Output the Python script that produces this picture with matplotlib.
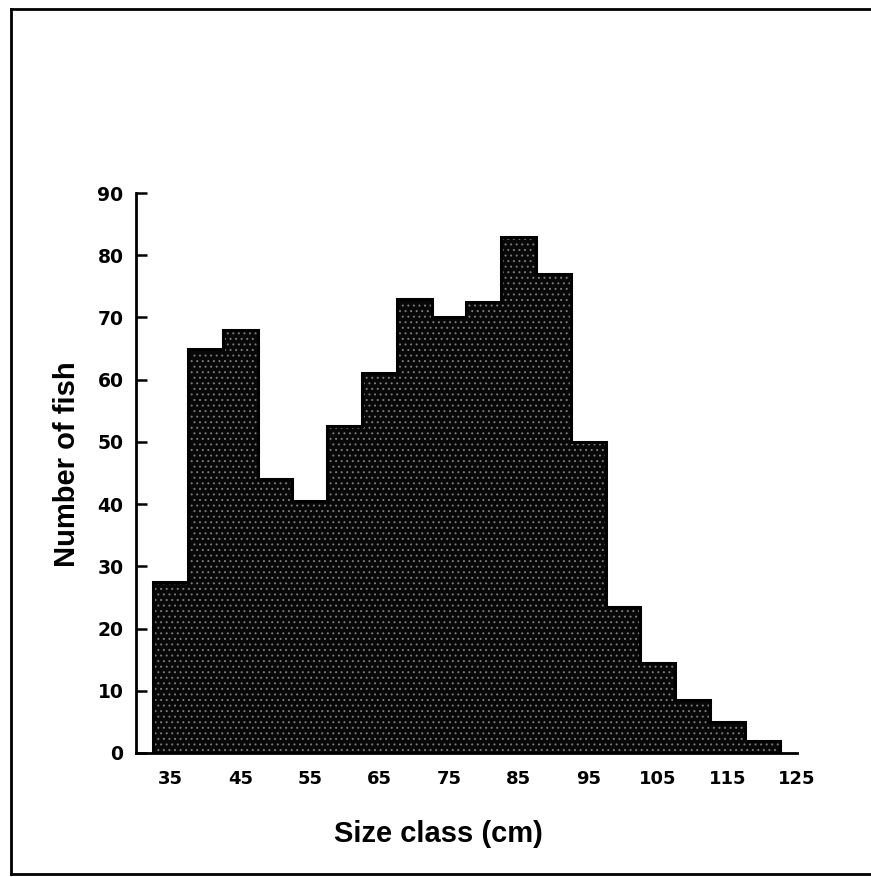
import numpy as np
import matplotlib
matplotlib.use("Agg")
import matplotlib.pyplot as plt
from matplotlib.lines import Line2D

# size classes (bin centres, cm) and number of fish in each
size_class = [35, 40, 45, 50, 55, 60, 65, 70, 75, 80, 85, 90, 95, 100, 105, 110, 115, 120]
n_fish = [27.5, 65, 68, 44, 40.5, 52.5, 61, 73, 70, 72.5, 83, 77, 50, 23.5, 14.5, 8.5, 5, 2]
bin_width = 5

xtick_vals = [35, 45, 55, 65, 75, 85, 95, 105, 115, 125]
ytick_vals = [0, 10, 20, 30, 40, 50, 60, 70, 80, 90]

plt.rcParams['hatch.linewidth'] = 0.7

fig = plt.figure(figsize=(8.71, 8.77), dpi=100)
ax = fig.add_axes([0.156, 0.1414, 0.759, 0.6385])

# dark fill with a light speckle, no dividers between classes
ax.bar(size_class, n_fish, width=bin_width, color='#080808', linewidth=0, zorder=2)
ax.bar(size_class, n_fish, width=bin_width, facecolor='none', edgecolor='#7a7a7a',
       hatch='...', linewidth=0, zorder=3)
# heavy outline round the whole histogram
edges = [c - bin_width / 2 for c in size_class] + [size_class[-1] + bin_width / 2]
ax.stairs(n_fish, edges, baseline=0, color='black', linewidth=2.2, zorder=4)

ax.set_xlim(30, 125)
ax.set_ylim(0, 90)

for s in ['top', 'right']:
    ax.spines[s].set_visible(False)
ax.spines['left'].set_linewidth(2)
ax.spines['bottom'].set_linewidth(2)

ax.set_xticks(xtick_vals)
ax.set_xticklabels([str(v) for v in xtick_vals], fontsize=13, fontweight='bold',
                   family='DejaVu Sans')
ax.set_yticks(ytick_vals)
ax.set_yticklabels([str(v) for v in ytick_vals], fontsize=13.5, fontweight='bold',
                   family='DejaVu Sans')
ax.tick_params(axis='x', length=0, pad=12)
ax.tick_params(axis='y', direction='in', length=8, width=1.8, pad=9)

ax.set_xlabel('Size class (cm)', fontsize=21, fontweight='bold', family='Liberation Sans')
ax.xaxis.set_label_coords(0.457, -0.12)
ax.set_ylabel('Number of fish', fontsize=21, fontweight='bold', family='Liberation Sans')
ax.yaxis.set_label_coords(-0.083, 0.515)

# border round the page
fig.add_artist(Line2D([0.0126, 1.0], [0.9897, 0.9897], color='black', lw=2, transform=fig.transFigure))
fig.add_artist(Line2D([0.0126, 0.0126], [0.0034, 0.9897], color='black', lw=2, transform=fig.transFigure))
fig.add_artist(Line2D([0.0126, 1.0], [0.0034, 0.0034], color='black', lw=2, transform=fig.transFigure))

fig.savefig('out.png', dpi=100)
